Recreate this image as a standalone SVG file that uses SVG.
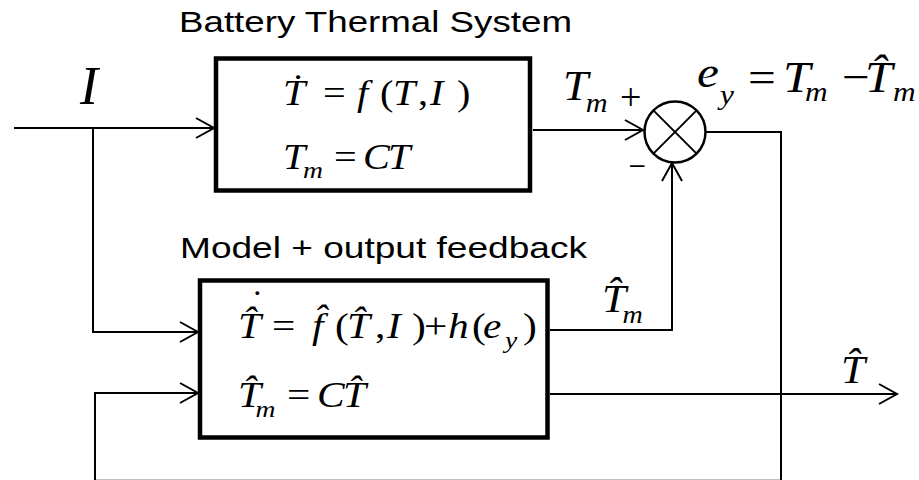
<svg xmlns="http://www.w3.org/2000/svg" width="919" height="480" viewBox="0 0 919 480">
<style>
.title{font-family:"Liberation Sans",Arial,sans-serif;font-size:29px;fill:#000}
.m{font-family:"Liberation Serif","Times New Roman",serif;font-style:italic;fill:#000}
.u{font-family:"Liberation Serif","Times New Roman",serif;font-style:normal}
.box{fill:#fff;stroke:#000;stroke-width:4.5}
.ln{fill:none;stroke:#000;stroke-width:2}
</style>
<defs>
<marker id="arr" markerWidth="22" markerHeight="24" refX="19" refY="12" orient="auto" markerUnits="userSpaceOnUse">
<path d="M1,2 L19,12 L1,22" fill="none" stroke="#000" stroke-width="2"/>
</marker>
</defs>
<rect width="919" height="480" fill="#fff"/>

<g id="connectors">
<path class="ln" d="M14,128 L214,128" marker-end="url(#arr)"/>
<path class="ln" d="M93,128 L93,332 L198,332" marker-end="url(#arr)"/>
<path class="ln" d="M95,480.7 L95,393 L198,393" marker-end="url(#arr)"/>
<path class="ln" d="M533,130 L643,130" marker-end="url(#arr)"/>
<path class="ln" d="M706,132 L781,132 L781,480.7 L95,480.7"/>
<path class="ln" d="M550,330 L672,330 L672,163" marker-end="url(#arr)"/>
<path class="ln" d="M550,394 L897,394" marker-end="url(#arr)"/>
</g>

<g id="battery">
<text class="title" x="179" y="32" textLength="393" lengthAdjust="spacingAndGlyphs">Battery Thermal System</text>
<rect class="box" x="216" y="58.5" width="314" height="132"/>
<text class="m" font-size="35" transform="translate(283,105) scale(1.15,1)"><tspan x="0" y="0">Ṫ</tspan><tspan class="u" x="34.8">=</tspan><tspan x="64.3">f</tspan><tspan class="u" x="84.3">(</tspan><tspan x="95.7">T</tspan><tspan class="u" x="117.4">,</tspan><tspan x="127.8">I</tspan><tspan class="u" x="151.3">)</tspan></text>
<text class="m" font-size="35" transform="translate(283,169) scale(1.15,1)"><tspan x="0" y="0">T</tspan><tspan font-size="24" x="17.4" y="9">m</tspan><tspan class="u" x="44.3" y="0">=</tspan><tspan x="69.6">C</tspan><tspan x="91.3">T</tspan></text>
</g>

<g id="model">
<text class="title" x="180" y="258" textLength="407" lengthAdjust="spacingAndGlyphs">Model + output feedback</text>
<rect class="box" x="200" y="280.5" width="347.5" height="157"/>
<text class="m" font-size="36" transform="translate(238,338) scale(1.15,1)"><tspan x="0" y="0">T̂</tspan><tspan class="u" x="29.6">=</tspan><tspan x="64.3">f̂</tspan><tspan class="u" x="84.3">(</tspan><tspan x="94.8">T̂</tspan><tspan class="u" x="119.1">,</tspan><tspan x="129.6">I</tspan><tspan class="u" x="151.3">)</tspan><tspan class="u" x="161.7">+</tspan><tspan x="182.6">h</tspan><tspan class="u" x="203.5">(</tspan><tspan x="213">e</tspan><tspan font-size="24" x="232.2" y="10">y</tspan><tspan class="u" x="247.8" y="0">)</tspan></text>
<text class="m" font-size="36" x="249" y="315">˙</text>
<text class="m" font-size="36" transform="translate(238,407) scale(1.15,1)"><tspan x="0" y="0">T̂</tspan><tspan font-size="24" x="15.2" y="10">m</tspan><tspan class="u" x="42.6" y="0">=</tspan><tspan x="68.7">C</tspan><tspan x="91.3">T̂</tspan></text>
</g>

<g id="sum">
<circle cx="675" cy="132" r="30.5" fill="#fff" stroke="#000" stroke-width="2.5"/>
<path d="M653.4,110.4 L696.6,153.6 M696.6,110.4 L653.4,153.6" stroke="#000" stroke-width="2"/>
<text class="u" font-size="38" x="620" y="110">+</text>
<text font-family="Liberation Sans,Arial,sans-serif" font-size="26" x="630" y="173">–</text>
</g>

<g id="labels">
<text class="m" font-size="54" x="80" y="104">I</text>
<text class="m" font-size="42" transform="translate(563,100) scale(1.08,1)"><tspan x="0" y="0">T</tspan><tspan font-size="28" x="21" y="12">m</tspan></text>
<text class="m" font-size="44" transform="translate(697,92) scale(1.12,1)"><tspan x="0" y="-5">e</tspan><tspan font-size="28" x="20.5" y="12">y</tspan><tspan class="u" x="45.5" y="0">=</tspan><tspan x="76.8">T</tspan><tspan font-size="28" x="96.4" y="9">m</tspan><tspan class="u" x="129.5" y="0">−</tspan><tspan x="150">T̂</tspan><tspan font-size="28" x="175" y="9">m</tspan></text>
<text class="m" font-size="40" transform="translate(602,312) scale(1.08,1)"><tspan x="0" y="0">T̂</tspan><tspan font-size="26" x="19" y="11">m</tspan></text>
<text class="m" font-size="40" transform="translate(841,383) scale(1.08,1)">T̂</text>
</g>
</svg>
